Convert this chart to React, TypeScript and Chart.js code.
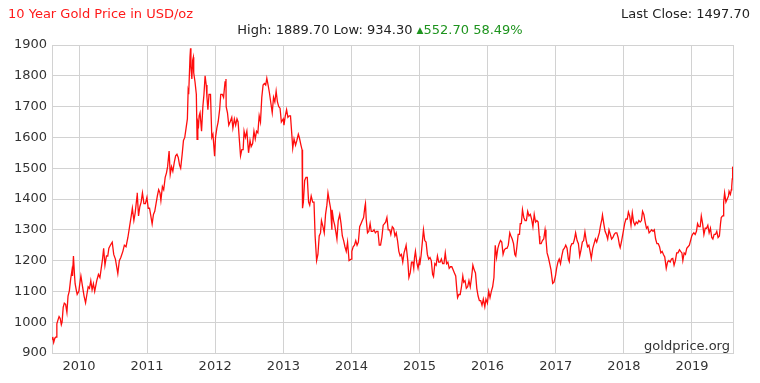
import React, { useEffect, useRef } from "react";
import { Chart, registerables } from "chart.js";

Chart.register(...registerables);

// ---------- data (month-day, USD/oz) ----------
const d2009 = ["08-09","08-13","08-18","08-24","08-31","09-04","09-09","09-16","09-22","09-28","10-02","10-08","10-14","10-21","10-28","11-03","11-10","11-17","11-24","11-27","12-02","12-08","12-11","12-17","12-22","12-31"];
const p2009 = [945,952,934.3,948,952,995,1005,1018,1012,992,1000,1048,1062,1058,1032,1085,1102,1140,1168,1150,1215,1150,1125,1105,1090,1100];

const d2010 = ["01-04","01-11","01-20","01-28","02-05","02-12","02-19","02-26","03-05","03-12","03-19","03-26","04-06","04-15","04-23","04-30","05-07","05-13","05-20","05-28","06-04","06-10","06-18","06-28","07-06","07-15","07-28","08-05","08-13","08-24","09-01","09-10","09-20","09-29","10-08","10-14","10-22","10-29","11-08","11-09","11-16","11-23","11-30","12-07","12-15","12-23","12-31"];
const p2010 = [1120,1150,1115,1085,1063,1090,1115,1110,1135,1105,1125,1100,1135,1155,1145,1175,1205,1240,1185,1215,1215,1240,1250,1260,1220,1205,1158,1200,1210,1230,1250,1245,1275,1310,1345,1370,1330,1355,1410,1420,1345,1375,1390,1420,1385,1385,1405];

const d2011 = ["01-07","01-14","01-21","01-28","02-04","02-11","02-18","02-25","03-04","03-11","03-16","03-24","03-31","04-08","04-15","04-21","04-29","05-05","05-12","05-19","05-27","06-03","06-10","06-17","06-24","06-30","07-08","07-15","07-22","07-29","08-05","08-09","08-12","08-19","08-22","08-24","08-29","09-02","09-06","09-08","09-15","09-22","09-26","09-30","10-04","10-07","10-12","10-20","10-27","11-02","11-08","11-14","11-18","11-23","11-29","12-07","12-14","12-20","12-29"];
const p2011 = [1370,1370,1345,1319,1350,1360,1385,1410,1430,1420,1395,1440,1430,1470,1485,1505,1556,1480,1505,1490,1520,1540,1545,1535,1510,1500,1545,1590,1600,1630,1660,1750,1740,1860,1889.7,1830,1790,1850,1860,1810,1780,1740,1594,1650,1640,1670,1680,1620,1700,1740,1800,1770,1730,1690,1740,1740,1600,1610,1539];

const d2012 = ["01-03","01-10","01-17","01-25","01-31","02-08","02-15","02-23","02-28","02-29","03-07","03-14","03-21","03-30","04-05","04-13","04-20","04-27","05-03","05-10","05-16","05-23","05-30","06-04","06-11","06-19","06-28","07-06","07-12","07-20","07-27","08-03","08-10","08-17","08-24","08-31","09-07","09-14","09-21","09-28","10-04","10-11","10-18","10-26","11-02","11-09","11-16","11-23","11-30","12-07","12-14","12-21","12-31"];
const p2012 = [1600,1630,1650,1690,1740,1740,1730,1780,1790,1700,1680,1640,1650,1665,1630,1660,1640,1660,1650,1590,1540,1560,1560,1620,1600,1620,1550,1590,1570,1580,1620,1595,1620,1615,1670,1650,1730,1770,1775,1770,1792,1770,1745,1710,1680,1730,1715,1750,1715,1700,1695,1650,1660];

const d2013 = ["01-04","01-11","01-18","01-25","02-01","02-08","02-15","02-20","02-27","03-07","03-14","03-22","03-28","04-05","04-11","04-12","04-15","04-18","04-25","05-02","05-09","05-16","05-22","05-30","06-07","06-14","06-20","06-28","07-05","07-12","07-19","07-24","08-01","08-08","08-15","08-22","08-28","09-05","09-11","09-18","09-19","09-27","10-03","10-10","10-15","10-22","10-30","11-06","11-13","11-20","11-27","12-04","12-11","12-19","12-31"];
const p2013 = [1640,1670,1690,1665,1670,1670,1610,1565,1595,1575,1590,1610,1598,1575,1560,1500,1370,1390,1460,1470,1470,1390,1380,1410,1390,1390,1280,1200,1220,1280,1290,1330,1310,1290,1350,1380,1420,1390,1370,1300,1365,1330,1315,1290,1270,1330,1350,1320,1280,1265,1245,1230,1260,1200,1205];

const d2014 = ["01-03","01-10","01-17","01-24","01-31","02-07","02-14","02-21","02-28","03-07","03-14","03-17","03-21","03-28","04-04","04-11","04-17","04-25","05-02","05-09","05-16","05-23","05-30","06-06","06-13","06-20","06-27","07-03","07-10","07-17","07-25","07-31","08-08","08-15","08-22","08-29","09-05","09-12","09-19","09-26","10-03","10-10","10-17","10-21","10-30","11-05","11-12","11-19","11-26","12-01","12-05","12-10","12-17","12-24","12-31"];
const p2014 = [1230,1245,1250,1265,1250,1260,1310,1320,1330,1340,1375,1385,1335,1290,1295,1320,1295,1295,1300,1290,1295,1295,1250,1250,1275,1315,1320,1325,1340,1300,1300,1285,1310,1305,1280,1290,1265,1230,1215,1220,1195,1225,1240,1250,1200,1145,1160,1195,1195,1175,1210,1230,1195,1175,1200];

const d2015 = ["01-02","01-09","01-16","01-22","01-29","02-05","02-12","02-19","02-26","03-05","03-12","03-17","03-24","03-31","04-07","04-14","04-21","04-28","05-05","05-12","05-19","05-26","06-02","06-09","06-16","06-23","06-30","07-07","07-14","07-20","07-24","07-31","08-07","08-14","08-21","08-26","09-02","09-09","09-16","09-23","09-30","10-07","10-14","10-21","10-28","11-04","11-11","11-18","11-25","12-02","12-09","12-17","12-23","12-31"];
const p2015 = [1185,1215,1260,1300,1265,1260,1220,1205,1210,1200,1155,1148,1190,1185,1215,1195,1195,1205,1190,1190,1225,1190,1195,1175,1180,1180,1170,1160,1150,1105,1080,1090,1090,1115,1150,1130,1135,1110,1115,1135,1115,1145,1185,1170,1160,1110,1085,1070,1070,1055,1075,1050,1075,1062];

const d2016 = ["01-07","01-14","01-21","01-28","02-04","02-11","02-18","02-25","03-03","03-10","03-17","03-24","03-31","04-07","04-14","04-21","04-29","05-05","05-12","05-19","05-26","05-31","06-06","06-13","06-20","06-24","06-30","07-06","07-13","07-20","07-27","08-03","08-10","08-17","08-24","08-31","09-07","09-14","09-21","09-28","10-04","10-07","10-14","10-21","10-28","11-04","11-09","11-15","11-22","11-29","12-06","12-15","12-22","12-30"];
const p2016 = [1100,1080,1100,1115,1145,1250,1210,1240,1255,1265,1260,1220,1235,1240,1240,1250,1290,1280,1270,1255,1220,1215,1245,1285,1285,1320,1320,1365,1340,1330,1330,1360,1345,1350,1335,1310,1350,1325,1330,1325,1280,1255,1255,1265,1270,1300,1270,1225,1210,1190,1170,1126,1130,1150];

const d2017 = ["01-05","01-12","01-19","01-26","02-02","02-09","02-16","02-23","03-02","03-09","03-14","03-21","03-28","04-04","04-11","04-17","04-25","05-02","05-09","05-16","05-23","05-30","06-06","06-13","06-20","06-27","07-05","07-10","07-18","07-25","08-01","08-08","08-15","08-22","08-29","09-05","09-08","09-15","09-22","09-29","10-06","10-13","10-20","10-27","11-03","11-10","11-17","11-24","12-01","12-08","12-12","12-19","12-29"];
const p2017 = [1175,1195,1205,1190,1215,1235,1240,1250,1240,1205,1197,1245,1255,1255,1270,1290,1265,1255,1215,1235,1260,1265,1293,1265,1245,1250,1225,1207,1240,1255,1270,1260,1275,1290,1315,1335,1348,1320,1295,1285,1270,1300,1285,1270,1275,1285,1290,1290,1275,1250,1242,1262,1296];

const d2018 = ["01-05","01-12","01-19","01-25","02-01","02-08","02-15","02-22","03-01","03-08","03-15","03-22","03-29","04-05","04-11","04-18","04-25","05-02","05-09","05-16","05-23","05-30","06-06","06-13","06-20","06-27","07-04","07-11","07-18","07-25","08-01","08-08","08-16","08-23","08-30","09-06","09-13","09-20","09-27","10-04","10-11","10-18","10-26","11-01","11-08","11-13","11-20","11-27","12-04","12-11","12-18","12-31"];
const p2018 = [1320,1335,1335,1358,1345,1315,1355,1325,1315,1325,1320,1330,1325,1330,1360,1350,1325,1305,1310,1290,1295,1300,1295,1300,1270,1255,1255,1245,1225,1230,1220,1212,1175,1195,1200,1195,1205,1207,1185,1200,1225,1225,1235,1230,1225,1200,1225,1220,1240,1245,1250,1280];

const d2019 = ["01-04","01-11","01-18","01-25","01-31","02-07","02-14","02-20","02-27","03-06","03-13","03-20","03-27","04-03","04-10","04-17","04-23","04-30","05-07","05-14","05-21","05-28","06-03","06-07","06-14","06-18","06-20","06-25","07-02","07-09","07-16","07-19","07-26","07-31","08-02","08-05","08-07","08-09"];
const p2019 = [1285,1290,1285,1295,1320,1310,1310,1345,1320,1285,1305,1305,1315,1290,1305,1275,1270,1285,1285,1295,1275,1280,1320,1340,1345,1345,1390,1420,1390,1400,1410,1425,1415,1430,1440,1465,1505,1497.7];

const yearTicks = [2010, 2011, 2012, 2013, 2014, 2015, 2016, 2017, 2018, 2019];
const yMin = 900;
const yMax = 1900;
const yStep = 100;

const titleText = "10 Year Gold Price in USD/oz";
const lastCloseText = "Last Close: 1497.70";
const highLowText = "High: 1889.70 Low: 934.30 ";
const changeText = "552.70 58.49%";
const sourceText = "goldprice.org";

const yearBlocks: [number, string[], number[]][] = [
  [2009, d2009, p2009],
  [2010, d2010, p2010],
  [2011, d2011, p2011],
  [2012, d2012, p2012],
  [2013, d2013, p2013],
  [2014, d2014, p2014],
  [2015, d2015, p2015],
  [2016, d2016, p2016],
  [2017, d2017, p2017],
  [2018, d2018, p2018],
  [2019, d2019, p2019],
];

function toTime(year: number, md: string): number {
  const [m, d] = md.split("-").map(Number);
  return Date.UTC(year, m - 1, d);
}

const FONT = "'DejaVu Sans', Verdana, sans-serif";
const GRID = "#d2d2d2";

export default function App() {
  const canvasRef = useRef<HTMLCanvasElement | null>(null);

  useEffect(() => {
    document.body.style.margin = "0";
    const canvas = canvasRef.current;
    if (!canvas) return;

    const points: { x: number; y: number }[] = [];
    yearBlocks.forEach(([yr, ds, ps]) => {
      ds.forEach((md, i) => points.push({ x: toTime(yr, md), y: ps[i] }));
    });
    const xMin = points[0].x;
    const xMax = points[points.length - 1].x;

    const borderPlugin = {
      id: "plotBorder",
      beforeDatasetsDraw(chart: any) {
        const { ctx, chartArea } = chart;
        ctx.save();
        ctx.strokeStyle = GRID;
        ctx.lineWidth = 1;
        ctx.strokeRect(
          Math.round(chartArea.left) + 0.5,
          Math.round(chartArea.top) + 0.5,
          Math.round(chartArea.right - chartArea.left),
          Math.round(chartArea.bottom - chartArea.top)
        );
        ctx.restore();
      },
    };

    const chart = new Chart(canvas, {
      type: "line",
      data: {
        datasets: [
          {
            data: points,
            borderColor: "rgba(255,0,0,0.95)",
            borderWidth: 1.3,
            pointRadius: 0,
            tension: 0,
            fill: false,
          },
        ],
      },
      options: {
        animation: false,
        responsive: false,
        maintainAspectRatio: false,
        parsing: false as any,
        layout: { padding: { top: 45, right: 27, left: 0, bottom: 0 } },
        plugins: { legend: { display: false }, tooltip: { enabled: false }, title: { display: false } },
        scales: {
          x: {
            type: "linear",
            min: xMin,
            max: xMax,
            afterBuildTicks: (scale: any) => {
              scale.ticks = yearTicks.map((y) => ({ value: Date.UTC(y, 0, 1) }));
            },
            afterFit: (scale: any) => {
              scale.height = 30;
            },
            ticks: {
              autoSkip: false,
              maxRotation: 0,
              padding: 6,
              color: "#333",
              font: { family: FONT, size: 13 },
              callback: (v: any) => String(new Date(Number(v)).getUTCFullYear()),
            },
            grid: { color: GRID, lineWidth: 1, drawTicks: false },
            border: { display: true, color: GRID },
          },
          y: {
            type: "linear",
            min: yMin,
            max: yMax,
            afterFit: (scale: any) => {
              scale.width = 52;
            },
            ticks: {
              stepSize: yStep,
              padding: 5,
              color: "#333",
              font: { family: FONT, size: 13 },
              callback: (v: any) => String(v),
            },
            grid: { color: GRID, lineWidth: 1, drawTicks: false },
            border: { display: true, color: GRID },
          },
        },
      },
      plugins: [borderPlugin],
    });

    return () => chart.destroy();
  }, []);

  const textBase: React.CSSProperties = {
    position: "absolute",
    fontFamily: FONT,
    fontSize: 13,
    lineHeight: "16px",
    whiteSpace: "nowrap",
  };

  return (
    <div style={{ position: "relative", width: 760, height: 383, background: "#fff", overflow: "hidden" }}>
      <canvas ref={canvasRef} width={760} height={383} style={{ display: "block" }} />
      <div style={{ ...textBase, left: 8, top: 6, color: "#ff1a1a" }}>{titleText}</div>
      <div style={{ ...textBase, right: 10, top: 6, color: "#222" }}>{lastCloseText}</div>
      <div style={{ ...textBase, left: 0, width: 760, textAlign: "center", top: 22, color: "#222" }}>
        {highLowText}
        <span style={{ color: "#1e941e" }}>
          <span style={{ fontSize: 9, verticalAlign: "1px" }}>▲</span>
          {changeText}
        </span>
      </div>
      <div style={{ ...textBase, right: 30, top: 338, color: "#333" }}>{sourceText}</div>
    </div>
  );
}
